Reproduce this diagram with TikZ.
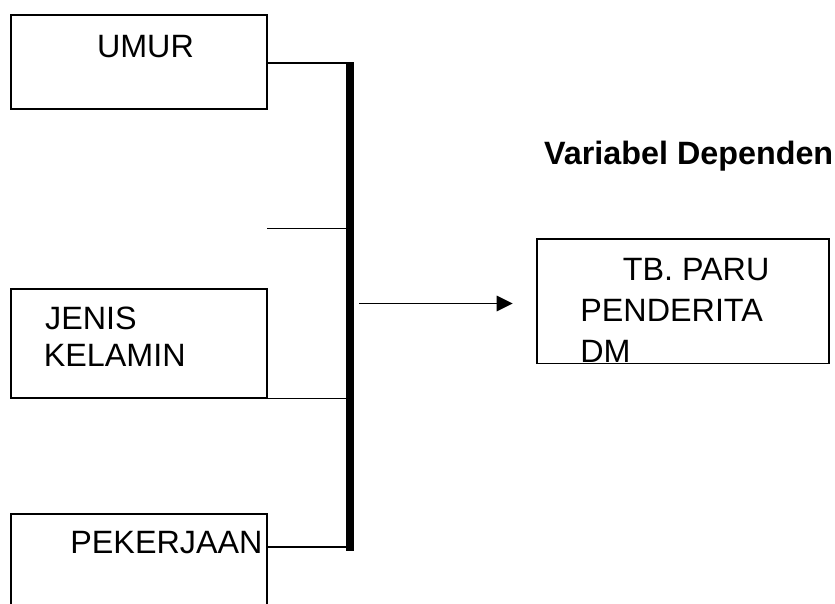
\documentclass[tikz,border=0pt]{standalone}
\usepackage{fontspec}
\setmainfont{Liberation Sans}
\usetikzlibrary{arrows.meta}
\begin{document}
\begin{tikzpicture}[x=1pt, y=-1pt,
  box/.style={draw=black, line width=1.6pt, rectangle, inner sep=0pt, fill=none},
  lbl/.style={inner sep=0pt, anchor=base west, font=\fontsize{32.3}{38}\selectfont},
  link/.style={draw=black, line width=1.6pt},
  busbar/.style={draw=black, line width=8pt},
  arr/.style={draw=black, line width=1.8pt, -{Triangle[length=16pt, width=15.5pt]}}]
\clip (0,0) rectangle (835,604);
\useasboundingbox (0,0) rectangle (835,604);

% independent variable boxes
\node[box, minimum width=256pt, minimum height=94pt] (umur) at (139,62) {};
\node[box, minimum width=256pt, minimum height=108.5pt] (jenis) at (139,343.5) {};
\node[box, minimum width=256pt, minimum height=120pt] (pek) at (139,573.7) {};

% dependent variable box
\node[box, minimum width=292.3pt, minimum height=124.6pt] (tb) at (682.85,301) {};

% labels
\node[lbl] (tumur) at (96.8,57.3) {UMUR};
\node[lbl] (tjenis1) at (45,329) {JENIS};
\node[lbl] (tjenis2) at (43.6,366.7) {KELAMIN};
\node[lbl] (ttb1) at (622.6,280) {TB. PARU};
\node[lbl] (ttb2) at (580.2,321) {PENDERITA};
\node[lbl] (ttb3) at (580.2,362.7) {DM};
\node[lbl] (tpek) at (70.2,553.3) {PEKERJAAN};
\node[lbl, font=\fontsize{32.3}{38}\selectfont\bfseries] (tvar) at (544,165) {Variabel Dependen};

% vertical collector bar
\coordinate (bartop) at (350,62.3);
\coordinate (barbot) at (350,551);
\draw[busbar] (bartop) -- (barbot);

% branches into the bar
\coordinate (umurout) at ([yshift=-1pt]umur.east);
\draw[link] (umurout) -- (umurout -| bartop);
\coordinate (stub) at (267,228.3);
\draw[link] (stub) -- (stub -| bartop);
\draw[link] (jenis.south east) -- (jenis.south east -| bartop);
\coordinate (pekout) at ([yshift=-34pt]pek.north east);
\draw[link] (pekout) -- ([xshift=4pt]pekout -| bartop);

% arrow to dependent variable
\coordinate (arrstart) at (359,303.5);
\coordinate (arrend) at (512.7,303.5);
\draw[arr] (arrstart) -- (arrend);
\end{tikzpicture}
\end{document}
